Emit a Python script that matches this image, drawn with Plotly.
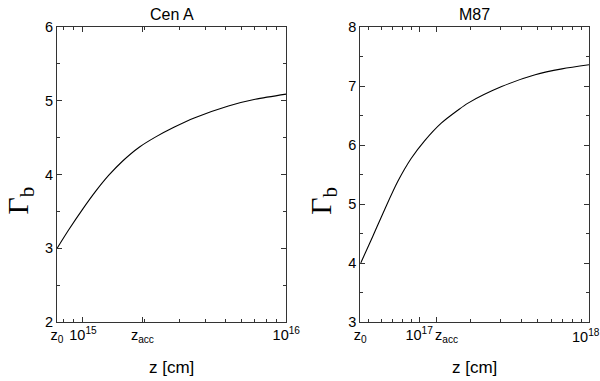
import numpy as np
import plotly.graph_objects as go
from plotly.subplots import make_subplots

# Cen A
cena_z = [7.46e14, 8.51e14, 9.91e14, 1.153e15, 1.34e15, 1.563e15, 1.89e15, 2.28e15, 2.80e15,
          3.55e15, 5.19e15, 7.03e15, 1.0e16]
cena_gamma = [3.0, 3.25, 3.52, 3.77, 3.99, 4.18, 4.37, 4.51, 4.64, 4.77, 4.93, 5.02, 5.09]
cena_z0 = 7.45e14
cena_zacc = 1.96e15

# M87
m87_z = [4.53e16, 5.33e16, 6.25e16, 7.48e16, 8.97e16, 1.076e17, 1.349e17, 1.69e17, 1.94e17,
         3.06e17, 4.82e17, 6.93e17, 1.0e18]
m87_gamma = [4.0, 4.45, 4.90, 5.38, 5.77, 6.07, 6.37, 6.59, 6.71, 6.99, 7.19, 7.29, 7.36]
m87_z0 = 4.5e16
m87_zacc = 1.27e17

FONT = "Arial, Liberation Sans, sans-serif"

fig = make_subplots(rows=1, cols=2, horizontal_spacing=0.139)

fig.add_trace(go.Scatter(x=cena_z, y=cena_gamma, mode="lines",
                         line=dict(color="black", width=1.1, shape="spline", smoothing=0.8)),
              row=1, col=1)
fig.add_trace(go.Scatter(x=m87_z, y=m87_gamma, mode="lines",
                         line=dict(color="black", width=1.1, shape="spline", smoothing=0.8)),
              row=1, col=2)

def decade_minors(lo, hi):
    out = []
    for d in range(lo, hi):
        out += [k * 10.0 ** d for k in range(2, 10)]
    return out

axis_common = dict(showline=True, linecolor="#333", linewidth=1, mirror="ticks",
                   ticks="inside", ticklen=5, tickcolor="#333", showgrid=False,
                   zeroline=False, automargin=False, ticklabeloverflow="allow",
                   tickfont=dict(family=FONT, size=14.5, color="black"))

xtitle = dict(text="z [cm]", font=dict(family=FONT, size=17, color="black"), standoff=16)

# left x axis
fig.update_xaxes(type="log", range=[np.log10(cena_z0), 16], tickmode="array",
                 tickvals=[cena_z0, 1e15, cena_zacc, 1e16],
                 ticktext=["z<sub>0</sub>", "10<sup>15</sup>", "z<sub>acc</sub>", "10<sup>16</sup>"],
                 minor=dict(ticks="inside", ticklen=3, tickcolor="#333",
                            tickvals=[v for v in decade_minors(14, 16) if v > cena_z0]),
                 title=xtitle, row=1, col=1, **axis_common)
# right x axis (z_acc and 10^18 labels are nudged sideways below, as in the original)
fig.update_xaxes(type="log", range=[np.log10(m87_z0), 18], tickmode="array",
                 tickvals=[m87_z0, 1e17, m87_zacc, 1e18],
                 ticktext=["z<sub>0</sub>", "10<sup>17</sup>", "", ""],
                 minor=dict(ticks="inside", ticklen=3, tickcolor="#333",
                            tickvals=[v for v in decade_minors(16, 18) if v > m87_z0]),
                 title=xtitle, row=1, col=2, **axis_common)

fig.update_yaxes(range=[2, 6], dtick=1, minor=dict(ticks="inside", ticklen=3, dtick=0.5, tickcolor="#333"),
                 row=1, col=1, **axis_common)
fig.update_yaxes(range=[3, 8], dtick=1, minor=dict(ticks="inside", ticklen=3, dtick=0.5, tickcolor="#333"),
                 row=1, col=2, **axis_common)

# y titles (sit a bit below the middle, as in the original)
for xd, yd in [("x domain", "y domain"), ("x2 domain", "y2 domain")]:
    fig.add_annotation(text="Γ<sub>b</sub>", xref=xd, yref=yd, x=0, y=0.5, xshift=-38, yshift=-26,
                       xanchor="center", yanchor="middle", textangle=-90, showarrow=False,
                       font=dict(family="Liberation Serif, serif", size=30, color="black"))

# panel titles
fig.add_annotation(text="Cen A", xref="x domain", yref="paper", x=0.5, y=1, yshift=2,
                   yanchor="bottom", showarrow=False, font=dict(family=FONT, size=16, color="black"))
fig.add_annotation(text="M87", xref="x2 domain", yref="paper", x=0.5, y=1, yshift=2,
                   yanchor="bottom", showarrow=False, font=dict(family=FONT, size=16, color="black"))

# shifted tick labels on the M87 axis
fig.add_annotation(text="z<sub>acc</sub>", xref="x2", yref="y2 domain", x=np.log10(m87_zacc), y=0,
                   xshift=10, yshift=-3, xanchor="center", yanchor="top", showarrow=False,
                   font=dict(family=FONT, size=14.5, color="black"))
fig.add_annotation(text="10<sup>18</sup>", xref="x2", yref="y2 domain", x=18, y=0,
                   xshift=-3, yshift=-3, xanchor="center", yanchor="top", showarrow=False,
                   font=dict(family=FONT, size=14.5, color="black"))

fig.update_layout(width=600, height=381, showlegend=False, template="none",
                  margin=dict(l=57, r=11, t=27, b=59),
                  plot_bgcolor="white", paper_bgcolor="white")
fig.update_xaxes(domain=[0, 0.431], row=1, col=1)
fig.update_xaxes(domain=[0.570, 1], row=1, col=2)

# drop the page's default body margin so the figure sits at the window origin
fig.write_html("out.html", config={"displayModeBar": False},
               post_script="document.body.style.margin='0';")
